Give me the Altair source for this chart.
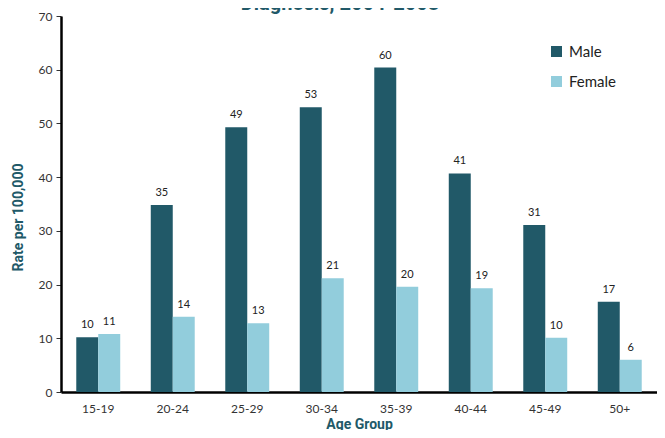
import altair as alt
import pandas as pd

age_groups = ["15-19", "20-24", "25-29", "30-34", "35-39", "40-44", "45-49", "50+"]
male = [10.2, 34.8, 49.3, 53.0, 60.4, 40.7, 31.1, 16.8]
female = [10.8, 14.0, 12.8, 21.2, 19.6, 19.3, 10.1, 6.0]
series = ["Male", "Female"]
colors = ["#215968", "#92CDDC"]
title_text = "Diagnosis, 2004-2008"

rows = []
for i, g in enumerate(age_groups):
    rows.append({"age": g, "sex": "Male", "rate": male[i]})
    rows.append({"age": g, "sex": "Female", "rate": female[i]})
df = pd.DataFrame(rows)

TEAL = "#215968"
BODY_FONT = "Lato, Open Sans, sans-serif"
HEAD_FONT = "Liberation Sans Narrow, Roboto, sans-serif"

x_enc = alt.X(
    "age:N",
    sort=age_groups,
    scale=alt.Scale(paddingInner=0.41, paddingOuter=0.205),
    axis=alt.Axis(
        title="Age Group",
        labelAngle=0,
        ticks=False,
        labelPadding=11,
        labelFontSize=12,
        labelColor="#333333",
        labelFont=BODY_FONT,
        domainColor="black",
        domainWidth=2.5,
        titleFont=HEAD_FONT,
        titleFontSize=14,
        titleFontWeight="bold",
        titleColor=TEAL,
        titlePadding=3,
    ),
)
xoff = alt.XOffset("sex:N", sort=series, scale=alt.Scale(domain=series))
y_enc = alt.Y(
    "rate:Q",
    scale=alt.Scale(domain=[0, 70], nice=False),
    axis=alt.Axis(
        title="Rate per 100,000",
        values=[0, 10, 20, 30, 40, 50, 60, 70],
        grid=False,
        tickSize=5,
        tickColor="#333333",
        labelPadding=4,
        labelFontSize=12,
        labelColor="#333333",
        labelFont=BODY_FONT,
        domainColor="black",
        domainWidth=2.5,
        titleFont=HEAD_FONT,
        titleFontSize=14,
        titleFontWeight="bold",
        titleColor=TEAL,
        titlePadding=13,
        titleY=201,
    ),
)

bars = alt.Chart(df).mark_bar().encode(
    x=x_enc,
    xOffset=xoff,
    y=y_enc,
    color=alt.Color(
        "sex:N",
        sort=series,
        scale=alt.Scale(domain=series, range=colors),
        legend=alt.Legend(
            title=None,
            orient="none",
            legendX=488,
            legendY=28,
            symbolType="square",
            symbolSize=121,
            symbolStrokeWidth=0,
            labelFontSize=15,
            labelFont=BODY_FONT,
            labelColor="#222222",
            rowPadding=14,
            labelOffset=5,
        ),
    ),
)

labels = alt.Chart(df).mark_text(
    dy=-7, fontSize=11, color="#222222", font=BODY_FONT, baseline="bottom"
).encode(
    x=alt.X("age:N", sort=age_groups),
    xOffset=alt.XOffset("sex:N", sort=series),
    y=alt.Y("rate:Q"),
    text=alt.Text("rate:Q", format=".0f"),
)

title = alt.Chart(pd.DataFrame({"t": [title_text]})).mark_text(
    font=HEAD_FONT, fontSize=20, fontWeight="bold", color=TEAL,
    baseline="alphabetic", align="center",
).encode(x=alt.value(279), y=alt.value(-6), text="t:N")

chart = alt.layer(bars, labels, title).properties(
    width=596,
    height=376,
    padding={"left": 53, "top": 8, "right": 0, "bottom": 38},
    autosize=alt.AutoSizeParams(type="none"),
).configure_view(stroke=None)

chart.save("out.html", embed_options={"renderer": "svg", "actions": False})
